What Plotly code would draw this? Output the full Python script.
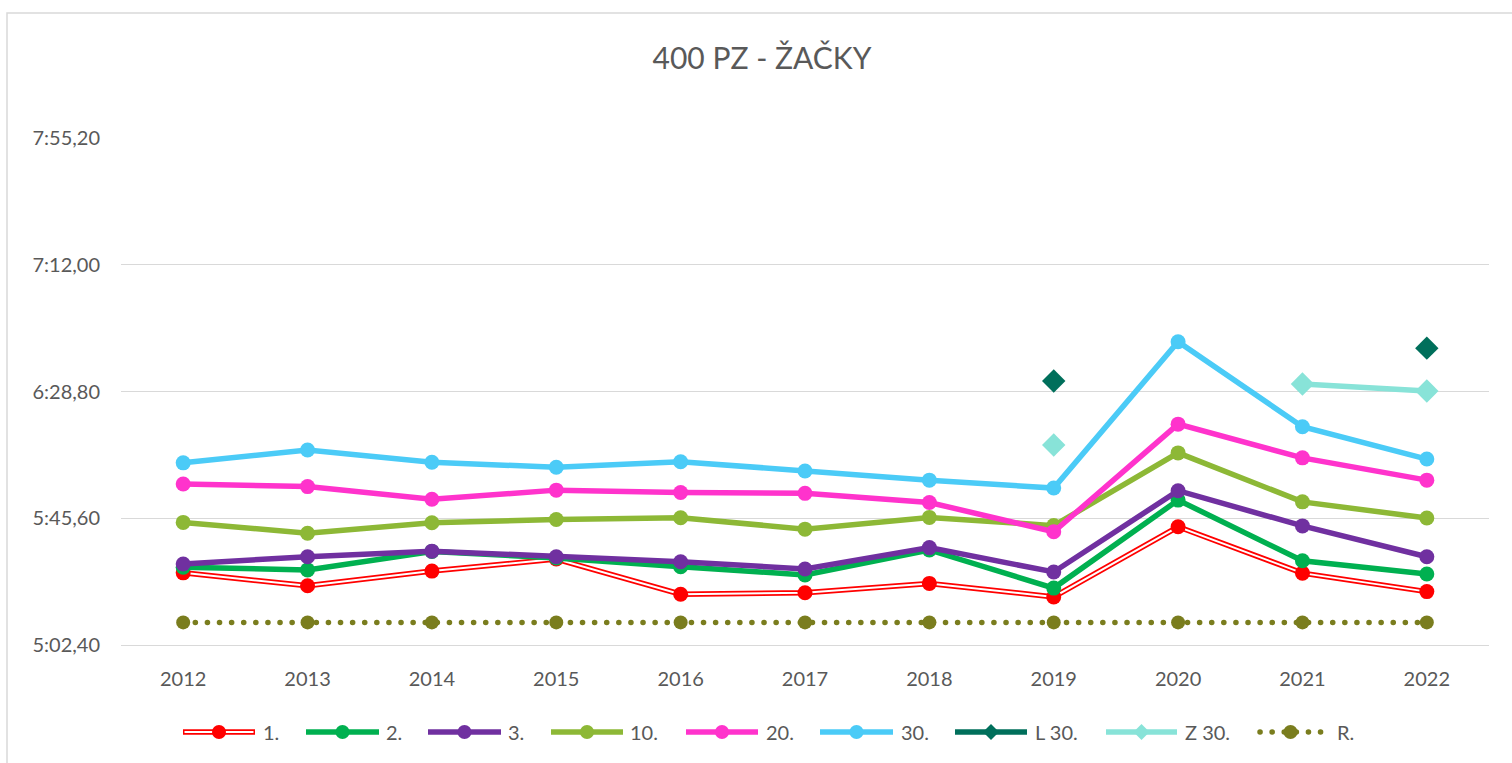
import plotly.graph_objects as go

# Years on the category axis
years = ["2012", "2013", "2014", "2015", "2016", "2017", "2018", "2019", "2020", "2021", "2022"]

# Times in seconds for the placings (1st, 2nd, 3rd, 10th, 20th, 30th)
place_1 = [327.0, 322.6, 327.6, 331.7, 319.7, 320.2, 323.4, 318.8, 342.7, 326.9, 320.6]
place_2 = [328.9, 328.0, 334.3, 332.1, 329.1, 326.3, 334.8, 321.8, 351.8, 331.1, 326.6]
place_3 = [330.0, 332.5, 334.4, 332.5, 330.8, 328.3, 335.6, 327.3, 355.0, 343.0, 332.5]
place_10 = [344.2, 340.5, 344.1, 345.2, 345.8, 341.9, 345.9, 343.1, 367.9, 351.2, 345.7]
place_20 = [357.3, 356.4, 352.1, 355.2, 354.4, 354.1, 351.0, 341.0, 377.7, 366.2, 358.6]
place_30 = [364.5, 368.9, 364.7, 363.0, 364.9, 361.7, 358.6, 355.9, 405.8, 376.8, 365.8]
summer_30 = [None, None, None, None, None, None, None, 392.4, None, None, 403.6]
winter_30 = [None, None, None, None, None, None, None, 370.6, None, 391.4, 389.0]
limit_r = [310.1] * 11

# Y axis ticks (seconds) shown as m:ss,ff
y_ticks = [302.4, 345.6, 388.8, 432.0, 475.2]


def fmt_time(sec):
    m = int(sec // 60)
    rest = sec - 60 * m
    s = int(rest)
    hund = int(round((rest - s) * 100))
    return f"{m}:{s:02d},{hund:02d}"


y_labels = [fmt_time(v) for v in y_ticks]

FONT = "Lato"
TXT = "#595959"
GRID = "#d9d9d9"

C_RED = "#FF0000"
C_GREEN = "#00B050"
C_PURPLE = "#7030A0"
C_OLIVE = "#8DB836"
C_PINK = "#FF33CC"
C_BLUE = "#4BCBF7"
C_DARK = "#006F5B"
C_LIGHT = "#88E3D8"
C_R = "#7A7D1E"

W, H = 1512, 763
ML, MR, MT, MB = 121, 23, 138, 118

fig = go.Figure()

LW = 5.5
MS = 15
DOT_DASH = "0.1px,12px"

# 1. : red outline line with white core
fig.add_trace(go.Scatter(x=years, y=place_1, mode="lines",
                         line=dict(color=C_RED, width=LW), showlegend=False, hoverinfo="skip"))
fig.add_trace(go.Scatter(x=years, y=place_1, mode="lines",
                         line=dict(color="white", width=2), showlegend=False, hoverinfo="skip"))
fig.add_trace(go.Scatter(x=years, y=place_1, mode="markers", name="1.",
                         marker=dict(color=C_RED, size=MS), showlegend=False))

for name, vals, col in [("2.", place_2, C_GREEN), ("3.", place_3, C_PURPLE),
                        ("10.", place_10, C_OLIVE), ("20.", place_20, C_PINK),
                        ("30.", place_30, C_BLUE)]:
    fig.add_trace(go.Scatter(x=years, y=vals, mode="lines+markers", name=name,
                             line=dict(color=col, width=LW),
                             marker=dict(color=col, size=MS), showlegend=False))

fig.add_trace(go.Scatter(x=years, y=summer_30, mode="lines+markers", name="L 30.",
                         line=dict(color=C_DARK, width=LW),
                         marker=dict(color=C_DARK, size=18, symbol="diamond"),
                         connectgaps=False, showlegend=False))
fig.add_trace(go.Scatter(x=years, y=winter_30, mode="lines+markers", name="Z 30.",
                         line=dict(color=C_LIGHT, width=LW),
                         marker=dict(color=C_LIGHT, size=18, symbol="diamond"),
                         connectgaps=False, showlegend=False))
fig.add_trace(go.Scatter(x=years, y=limit_r, mode="lines+markers", name="R.",
                         line=dict(color=C_R, width=5.5, dash=DOT_DASH),
                         marker=dict(color=C_R, size=14, symbol="circle"),
                         showlegend=False))


def px_x(px):
    return (px - ML) / (W - ML - MR)


def px_y(py):
    return (H - MB - py) / (H - MT - MB)


shapes = []
annotations = []

# chart frame
shapes.append(dict(type="rect", xref="paper", yref="paper",
                   x0=px_x(7), x1=px_x(W + 10), y0=px_y(H + 10), y1=px_y(13),
                   line=dict(color=GRID, width=1.5), fillcolor="rgba(0,0,0,0)", layer="below"))

# legend row
LEG_Y = 732
legend_items = [
    ("1.", 183, 255, 261, C_RED, "circle", "double"),
    ("2.", 306, 379, 384, C_GREEN, "circle", "solid"),
    ("3.", 428, 501, 506, C_PURPLE, "circle", "solid"),
    ("10.", 551, 623, 628, C_OLIVE, "circle", "solid"),
    ("20.", 686, 758, 764, C_PINK, "circle", "solid"),
    ("30.", 820, 893, 899, C_BLUE, "circle", "solid"),
    ("L 30.", 955, 1027, 1033, C_DARK, "diamond", "solid"),
    ("Z 30.", 1106, 1177, 1183, C_LIGHT, "diamond", "solid"),
    ("R.", 1257, 1324, 1335, C_R, "circle", "dot"),
]
for label, x0, x1, tx, col, sym, style in legend_items:
    ly = px_y(LEG_Y)
    if style == "dot":
        shapes.append(dict(type="line", xref="paper", yref="paper",
                           x0=px_x(x0 + 3), x1=px_x(x1), y0=ly, y1=ly,
                           line=dict(color=col, width=5.5, dash=DOT_DASH)))
    else:
        shapes.append(dict(type="line", xref="paper", yref="paper",
                           x0=px_x(x0), x1=px_x(x1), y0=ly, y1=ly,
                           line=dict(color=col, width=5.5)))
        if style == "double":
            shapes.append(dict(type="line", xref="paper", yref="paper",
                               x0=px_x(x0 + 1.5), x1=px_x(x1 - 1.5), y0=ly, y1=ly,
                               line=dict(color="white", width=2)))
    cx = px_x((x0 + x1) / 2)
    if sym == "circle":
        r = 7
        shapes.append(dict(type="circle", xref="paper", yref="paper",
                           xsizemode="pixel", ysizemode="pixel", xanchor=cx, yanchor=ly,
                           x0=-r, x1=r, y0=-r, y1=r,
                           fillcolor=col, line=dict(color=col, width=0)))
    else:
        d = 8
        shapes.append(dict(type="path", xref="paper", yref="paper",
                           xsizemode="pixel", ysizemode="pixel", xanchor=cx, yanchor=ly,
                           path=f"M 0 {d} L {d} 0 L 0 {-d} L {-d} 0 Z",
                           fillcolor=col, line=dict(color=col, width=0)))
    annotations.append(dict(text=label, xref="paper", yref="paper",
                            x=px_x(tx), y=ly, xanchor="left", yanchor="middle",
                            showarrow=False, font=dict(family=FONT, size=20, color=TXT)))

fig.update_layout(
    width=W, height=H,
    margin=dict(l=ML, r=MR, t=MT, b=MB),
    paper_bgcolor="white", plot_bgcolor="white",
    title=dict(text="400 PZ - ŽAČKY", x=762 / W, xref="container", xanchor="center",
               y=1 - 58 / H, yref="container", yanchor="middle",
               font=dict(family=FONT, size=30, color=TXT)),
    showlegend=False,
    shapes=shapes,
    annotations=annotations,
    xaxis=dict(type="category", range=[-0.5, 10.5], showgrid=False, zeroline=False,
               showline=True, linecolor=GRID, linewidth=1,
               ticks="", ticklabelstandoff=16,
               tickfont=dict(family=FONT, size=20, color=TXT)),
    yaxis=dict(range=[302.4, 475.25], tickvals=y_ticks, ticktext=y_labels,
               showgrid=True, gridcolor=GRID, gridwidth=1, zeroline=False, showline=False,
               ticks="", ticklabelstandoff=20,
               tickfont=dict(family=FONT, size=20, color=TXT)),
    font=dict(family=FONT, color=TXT),
)

# round line caps so the dotted "R." line renders as round dots
round_caps = """
function roundDots(){
  document.querySelectorAll('path').forEach(function(p){
    var d = p.style.strokeDasharray || p.getAttribute('stroke-dasharray');
    if (d && d.indexOf('0.1') === 0) { p.style.strokeLinecap = 'round'; }
  });
}
roundDots();
var gd = document.getElementById('{plot_id}');
if (gd && gd.on) { gd.on('plotly_afterplot', roundDots); }
"""

fig.write_html("out.html", post_script=round_caps)
